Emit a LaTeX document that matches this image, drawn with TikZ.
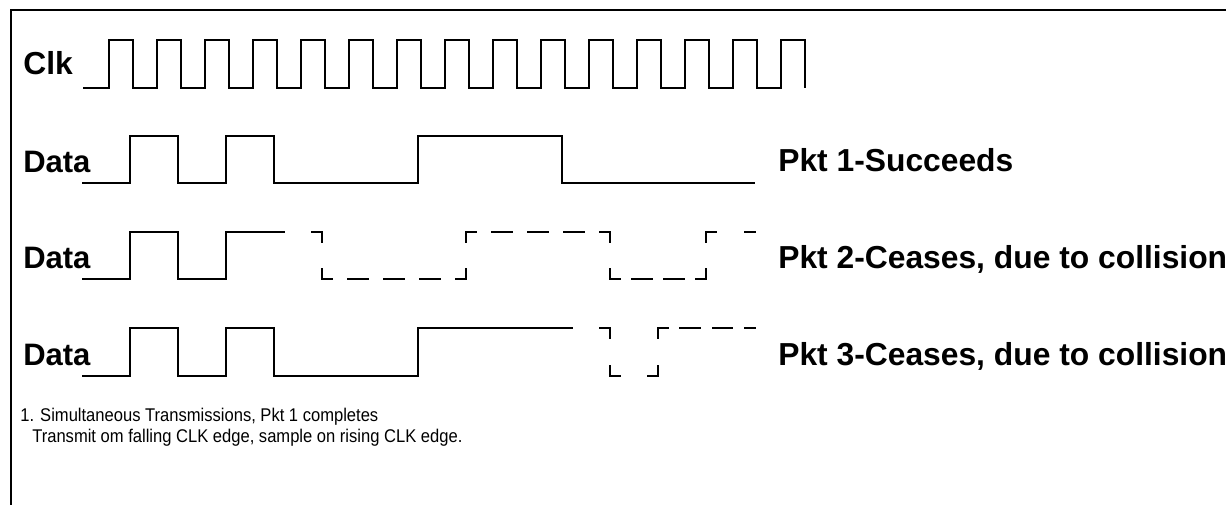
\documentclass[tikz,border=0pt]{standalone}
\usepackage{fontspec}
\setmainfont{Liberation Sans}
\newfontfamily\notefont[FakeStretch=0.9]{Liberation Sans}
\usepackage{tikz}

\begin{document}
\begin{tikzpicture}[
     x = 1pt, % one unit is one pixel
     y = -1pt, % y grows downwards
     line join = miter, % sharp corners on the waves
     semithick % line style
 ]

 \tikzstyle{frame}=[
     draw = black,
     line width = 2pt
 ]
 \tikzstyle{wave}=[
     draw = black,
     line width = 1.7pt
 ]
 \tikzstyle{lost}=[
     wave,
     line cap = rect,
     dash phase = 10pt
 ]
 \tikzstyle{sig}=[
     anchor = base west,
     inner sep = 0pt,
     font = \fontsize{31}{36}\selectfont\bfseries
 ]
 \tikzstyle{pkt}=[
     sig,
     font = \fontsize{31.8}{36}\selectfont\bfseries
 ]
 \tikzstyle{note}=[
     anchor = base west,
     inner sep = 0pt,
     font = \notefont\fontsize{18.4}{21}\selectfont
 ]

 \useasboundingbox (0,0) rectangle (1226,505);
 \draw[frame] (1226,10) -- (11,10) -- (11,505);

 % signal names
 \node[pkt] (clk) at (23,75) {Clk};
 \node[sig] (data1) at (23,173) {Data};
 \node[sig] (data2) at (23,269) {Data};
 \node[sig] (data3) at (23,365) {Data};

 % clock
 \draw[wave] (83,88) \foreach \k in {0,...,14} {
   -- ({109+48*\k},88) -- ({109+48*\k},40) -- ({133+48*\k},40) -- ({133+48*\k},88)
 };

 % packet 1
 \draw[wave] (82,183) -| (130,136) -| (178,183) -| (226,136) -| (274,183)
   -| (418,136) -| (562,183) -- (755,183);

 % packet 2
 \draw[wave] (82,279) -| (130,232) -| (178,279) -| (226,232) -- (274,232);
 \foreach \xa/\ya/\xb/\yb/\g in {274/232/322/232/28pt, 322/232/322/279/27pt,
     322/279/466/279/16pt, 466/279/466/232/27pt, 466/232/610/232/16pt,
     610/232/610/279/27pt, 610/279/706/279/12pt, 706/279/706/232/27pt,
     706/232/755/232/29pt}
   \draw[lost, dash pattern = on 20pt off \g] (\xa,\ya) -- (\xb,\yb);

 % packet 3
 \draw[wave] (82,376) -| (130,328) -| (178,376) -| (226,328) -| (274,376)
   -| (418,328) -- (562,328);
 \foreach \xa/\ya/\xb/\yb/\g in {562/328/610/328/28pt, 610/328/610/376/28pt,
     610/376/658/376/28pt, 658/376/658/328/28pt, 658/328/755/328/12.3pt}
   \draw[lost, dash pattern = on 20pt off \g] (\xa,\ya) -- (\xb,\yb);

 % outcome of each packet
 \node[pkt] (pkt1) at (778,172) {Pkt 1-Succeeds};
 \node[pkt] (pkt2) at (778,268) {Pkt 2-Ceases, due to collision};
 \node[pkt] (pkt3) at (778,365) {Pkt 3-Ceases, due to collision};

 % footnote
 \node[note] (note1) at (20,421) {1. Simultaneous Transmissions, Pkt 1 completes};
 \node[note] (note2) at (32,442) {Transmit om falling CLK edge, sample on rising CLK edge.};
\end{tikzpicture}
\end{document}
